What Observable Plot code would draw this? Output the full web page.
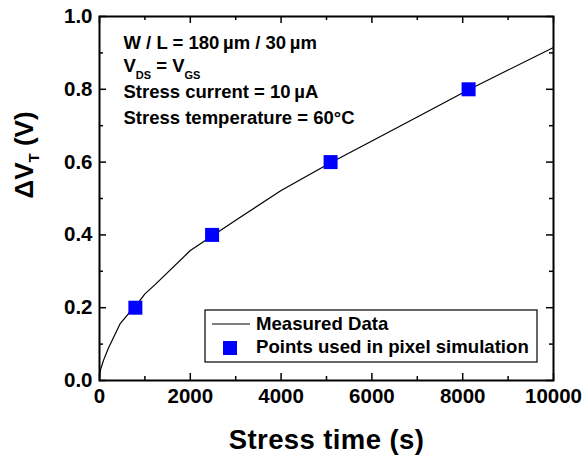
<!DOCTYPE html>
<html><head><meta charset="utf-8">
<script src="https://cdn.jsdelivr.net/npm/d3@7"></script>
<script src="https://cdn.jsdelivr.net/npm/@observablehq/plot@0.6"></script>
<style>
body{margin:0;background:#fff;}
#chart svg{display:block;}
</style>
</head><body><div id="chart"></div>
<script>
// ---- data ----
const measuredTime = [0, 10, 30, 90, 200, 460, 640, 790, 1000, 1230, 2000, 2480, 3000, 4000, 5090, 6000, 7000, 8130, 9000, 10000];
const measuredDVT  = [0, 0.02, 0.033, 0.056, 0.09, 0.157, 0.184, 0.203, 0.238, 0.264, 0.357, 0.397, 0.44, 0.522, 0.598, 0.658, 0.724, 0.799, 0.853, 0.915];
const simTime = [790, 2480, 5090, 8130];
const simDVT  = [0.2, 0.4, 0.6, 0.8];
const xMajorTicks = [0, 2000, 4000, 6000, 8000, 10000];
const xMinorTicks = [1000, 3000, 5000, 7000, 9000];
const yMajorTicks = [0, 0.2, 0.4, 0.6, 0.8, 1.0];
const yMinorTicks = [0.1, 0.3, 0.5, 0.7, 0.9];
const annotationLines = ["W / L = 180\u2009µm / 30\u2009µm", "V_DS = V_GS", "Stress current = 10\u2009µA", "Stress temperature = 60°C"];
const legendLabels = ["Measured Data", "Points used in pixel simulation"];
const xLabel = "Stress time (s)";
const yLabel = "ΔV_T (V)";

// ---- layout ----
const W = 585, H = 458, mL = 99, mR = 32, mT = 16, mB = 78;
const pw = W - mL - mR, ph = H - mT - mB;
const font = "'Liberation Sans', Arial, Helvetica, sans-serif";
const measured = measuredTime.map((t, i) => ({t, v: measuredDVT[i]}));
const sim = simTime.map((t, i) => ({t, v: simDVT[i]}));
const annotBaselines = [48, 71, 97, 123];

const plot = Plot.plot({
  width: W, height: H,
  marginLeft: mL, marginRight: mR, marginTop: mT, marginBottom: mB,
  style: {fontFamily: font, fontWeight: "bold", background: "white", color: "black", overflow: "visible"},
  x: {domain: [0, 10000]},
  y: {domain: [0, 1]},
  marks: [
    Plot.line(measured, {x: "t", y: "v", stroke: "black", strokeWidth: 1.2}),
    Plot.dot(sim, {x: "t", y: "v", symbol: "square", r: 7.9, fill: "#0000ff", stroke: "none"}),
    Plot.tickX(xMajorTicks, {x: d => d, insetTop: ph - 7, strokeWidth: 1.5}),
    Plot.tickX(xMajorTicks, {x: d => d, insetBottom: ph - 7, strokeWidth: 1.5}),
    Plot.tickX(xMinorTicks, {x: d => d, insetTop: ph - 4, strokeWidth: 1.5}),
    Plot.tickX(xMinorTicks, {x: d => d, insetBottom: ph - 4, strokeWidth: 1.5}),
    Plot.tickY(yMajorTicks, {y: d => d, insetRight: pw - 7, strokeWidth: 1.5}),
    Plot.tickY(yMajorTicks, {y: d => d, insetLeft: pw - 7, strokeWidth: 1.5}),
    Plot.tickY(yMinorTicks, {y: d => d, insetRight: pw - 4, strokeWidth: 1.5}),
    Plot.tickY(yMinorTicks, {y: d => d, insetLeft: pw - 4, strokeWidth: 1.5}),
    Plot.frame({strokeWidth: 2}),
    Plot.axisX({ticks: xMajorTicks, tickSize: 0, tickPadding: 8, fontSize: 20.5, tickFormat: d => String(d), label: null}),
    Plot.axisY({ticks: yMajorTicks, tickSize: 0, tickPadding: 7, fontSize: 20.5, tickFormat: d3.format(".1f"), label: null}),
    Plot.text([xLabel], {frameAnchor: "bottom", lineAnchor: "bottom", dy: 68, fontSize: 27.5, fill: "black", style: "letter-spacing:0.4px"}),
    Plot.text([yLabel], {frameAnchor: "left", lineAnchor: "middle", rotate: -90, dx: -75, fontSize: 26, fill: "black"}),
    ...annotationLines.map((s, i) => Plot.text([s], {frameAnchor: "top-left", textAnchor: "start", lineAnchor: "bottom", dx: 24, dy: annotBaselines[i] - mT, fontSize: 18.5, fill: "black"}))
  ]
});

document.getElementById("chart").appendChild(plot);

// subscripts
const svgNS = "http://www.w3.org/2000/svg";
function applySubscripts(el, subSize, shift) {
  const s = el.textContent;
  const parts = s.split(/_([A-Za-z]+)/);
  while (el.firstChild) el.removeChild(el.firstChild);
  let shifted = false;
  parts.forEach((p, i) => {
    if (!p) return;
    const ts = document.createElementNS(svgNS, "tspan");
    if (i % 2 === 1) { ts.setAttribute("font-size", subSize); ts.setAttribute("dy", shift); shifted = true; }
    else if (shifted) { ts.setAttribute("dy", -shift); shifted = false; }
    ts.textContent = p;
    el.appendChild(ts);
  });
}
d3.select(plot).selectAll("text").each(function() {
  const t = this.textContent;
  if (t === yLabel) applySubscripts(this, 15, 6);
  else if (t === annotationLines[1]) applySubscripts(this, 11, 7);
  else if (t === xLabel) this.setAttribute("letter-spacing", "0.4");
});

// legend
const svg = d3.select(plot);
const lg = svg.append("g").attr("font-family", font).attr("font-weight", "bold").attr("text-anchor", "start");
lg.append("rect").attr("x", 205).attr("y", 310).attr("width", 332).attr("height", 52)
  .attr("fill", "white").attr("stroke", "black").attr("stroke-width", 1.2);
lg.append("line").attr("x1", 212).attr("x2", 250).attr("y1", 324).attr("y2", 324)
  .attr("stroke", "black").attr("stroke-width", 1.2);
lg.append("rect").attr("x", 223).attr("y", 341).attr("width", 14).attr("height", 14).attr("fill", "#0000ff");
lg.append("text").attr("x", 256).attr("y", 330).attr("font-size", 18.6).attr("fill", "black").text(legendLabels[0]);
lg.append("text").attr("x", 256).attr("y", 353).attr("font-size", 18.6).attr("fill", "black").text(legendLabels[1]);
</script>
</body></html>
